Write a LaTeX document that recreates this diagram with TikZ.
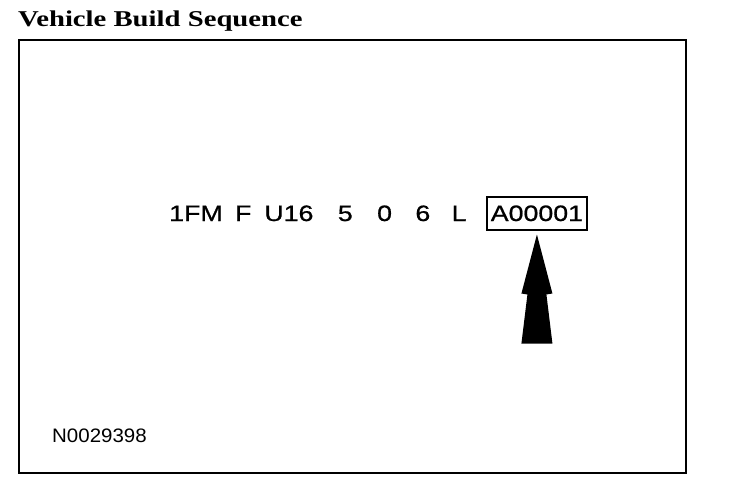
\documentclass[tikz,border=0pt]{standalone}
\usepackage{fontspec}
\newfontfamily\titlefont[FakeStretch=1.27]{Liberation Serif}
\newfontfamily\vinfont[FakeStretch=1.2, FakeBold=0.8]{Liberation Sans}
\newfontfamily\codefont[FakeStretch=1.05]{Liberation Sans}
\usetikzlibrary{positioning}

\begin{document}
\begin{tikzpicture}[x=1pt, y=-1pt,
  heading/.style={anchor=base west, inner sep=0pt, font=\titlefont\bfseries\fontsize{22.6}{26}\selectfont},
  vin/.style={inner sep=0pt, text height=16pt, text depth=0pt, font=\vinfont\fontsize{22.3}{26}\selectfont},
  seqbox/.style={vin, draw, line width=2pt, inner xsep=4pt, inner ysep=8.5pt},
  ref/.style={anchor=base west, inner sep=0pt, font=\codefont\fontsize{19.5}{22}\selectfont},
  frame/.style={draw, line width=2.5pt},
  pointer/.style={fill=black}
]
\useasboundingbox (0,0) rectangle (736,488);

\node[heading] (title) at (18,26) {Vehicle Build Sequence};
\draw[frame] (19,40) rectangle (686,473);

% VIN fields
\node[vin, anchor=base west] (wmi) at (169,221) {1FM};
\node[vin, base right=12pt of wmi] (restr) {F};
\node[vin, base right=12.5pt of restr] (line) {U16};
\node[vin, base right=24pt of line] (body) {5};
\node[vin, base right=24pt of body] (engine) {0};
\node[vin, base right=23pt of engine] (check) {6};
\node[vin, base right=21pt of check] (year) {L};
\node[seqbox, base right=19pt of year] (seq) {A00001};

% pointer arrow under the sequence number
\coordinate[below=4pt of seq.south] (tip);
\fill[pointer] (tip) -- ++(15.5,59) -- ++(-6,1) -- ++(6,49) -- ++(-31,0)
  -- ++(6,-49) -- ++(-6,-1) -- cycle;

\node[ref] (fig) at (52,442) {N0029398};
\end{tikzpicture}
\end{document}
